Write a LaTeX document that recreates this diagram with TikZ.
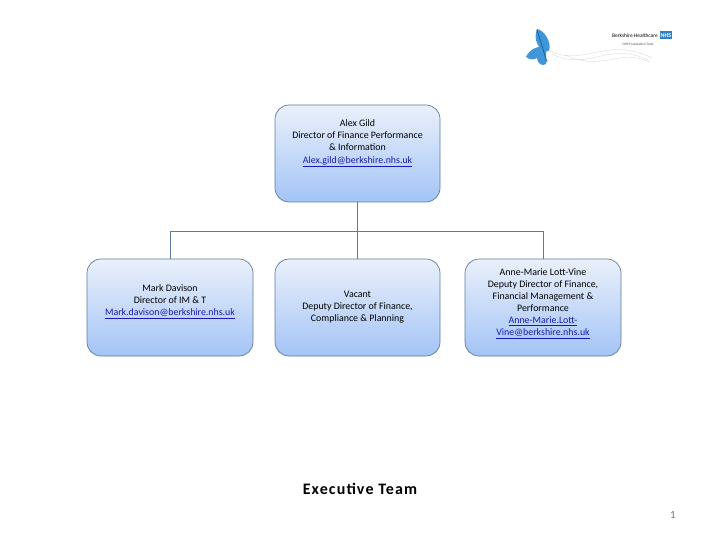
\documentclass[tikz,border=0pt]{standalone}
\usepackage{fontspec}
\setmainfont{Carlito}
\usetikzlibrary{positioning}
\definecolor{boxline}{HTML}{5B7C9C}
\definecolor{boxtop}{HTML}{EAF0FB}
\definecolor{boxbottom}{HTML}{A3C4F6}
\definecolor{maillink}{HTML}{1A1AB0}
\definecolor{wing}{HTML}{3F97DA}
\definecolor{wingdark}{HTML}{1F5F96}
\definecolor{nhsblue}{HTML}{2F7FC4}
\newcommand{\mailto}[1]{\textcolor{maillink}{\underline{#1}}}
\tikzset{
    staffbox/.style={draw=boxline, line width=0.7pt, rounded corners=14pt, top color=boxtop, bottom color=boxbottom,
        minimum height=97pt, align=center, font=\fontsize{9.9}{12.1}\selectfont, inner sep=2pt},
    branch/.style={draw=boxline, line width=0.7pt},
    ribbon/.style={draw=black!18, line width=0.3pt}
}
\begin{document}
\begin{tikzpicture}[x=1pt, y=-1pt]
    \useasboundingbox (0,0) rectangle (720,540);

    \node [staffbox, minimum width=165pt] (gild) at (357.5, 153.5) {Alex Gild\\Director of Finance Performance\\\& Information\\\mailto{Alex.gild@berkshire.nhs.uk}\\[12pt]\mbox{}};
    \node [staffbox, minimum width=166pt] (davison) at (170, 307.5) {Mark Davison\\Director of IM \& T\\\mailto{Mark.davison@berkshire.nhs.uk}\\[2pt]\mbox{}};
    \node [staffbox, minimum width=165pt] (vacant) at (357.5, 307.5) {Vacant\\Deputy Director of Finance,\\Compliance \& Planning};
    \node [staffbox, minimum width=156pt] (lottvine) at (543, 307.5) {Anne-Marie Lott-Vine\\Deputy Director of Finance,\\Financial Management \&\\Performance\\\mailto{Anne-Marie.Lott-}\\\mailto{Vine@berkshire.nhs.uk}\\[-1pt]\mbox{}};

    \coordinate (fork) at (357.5, 231);
    \draw [branch] (gild) -- (vacant);
    \draw [branch] (fork) -| (davison.north);
    \draw [branch] (fork) -| (lottvine.north);

    \node [font=\bfseries\fontsize{16}{18}\selectfont\addfontfeatures{LetterSpace=7}] (title) at (360, 489) {Executive Team};
    \node [font=\fontsize{11}{13}\selectfont, text=boxline] (pagenum) at (673, 515) {1};

    % logo
    \fill [wing] (537, 29) .. controls (544, 30) and (552, 42) .. (549, 51) .. controls (545, 53) and (540, 50) .. (538, 45) .. controls (535, 40) and (535, 34) .. (537, 29) -- cycle;
    \fill [wing] (546, 48) .. controls (540, 45) and (530, 48) .. (526, 57) .. controls (530, 60) and (534, 60) .. (537, 58) .. controls (537, 63) and (542, 67) .. (546, 64) -- cycle;
    \draw [wingdark, line width=0.8pt] (537, 30) -- (547, 62);
    \draw [ribbon] (548, 50) .. controls (570, 62) and (590, 52) .. (610, 50) .. controls (625, 48) and (640, 52) .. (652, 58);
    \draw [ribbon] (552, 54) .. controls (575, 66) and (595, 56) .. (612, 54) .. controls (628, 52) and (640, 56) .. (648, 60);
    \draw [ribbon] (565, 55) .. controls (585, 64) and (600, 62) .. (620, 58) .. controls (630, 56) and (640, 58) .. (650, 62);
    \node [font=\fontsize{5.4}{7}\selectfont, inner sep=0pt, anchor=east] (trust) at (658, 36) {Berkshire Healthcare};
    \node [font=\bfseries\fontsize{6}{7}\selectfont, text=white, fill=nhsblue, inner sep=1pt, minimum width=12pt, minimum height=8pt] (nhs) at (666, 35.5) {NHS};
    \node [font=\fontsize{3.5}{4}\selectfont, inner sep=0pt, text=black!70] (foundation) at (638, 44) {NHS Foundation Trust};
\end{tikzpicture}
\end{document}
